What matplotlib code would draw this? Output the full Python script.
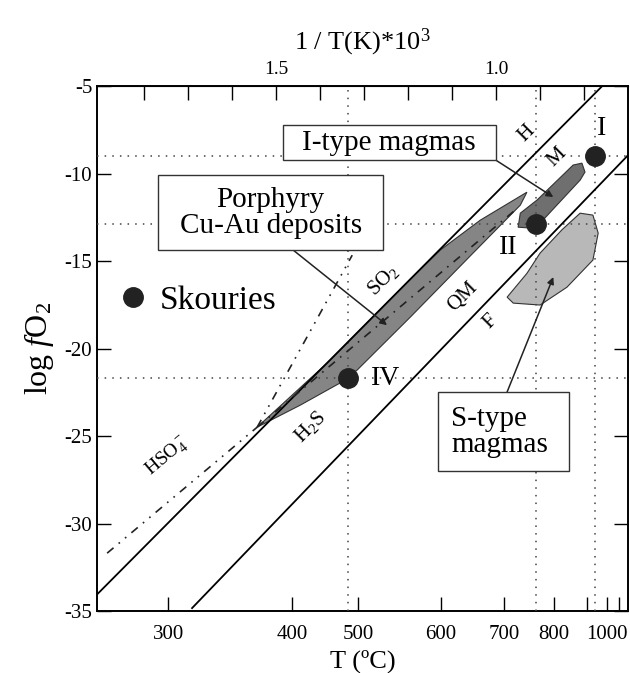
import matplotlib
matplotlib.use('Agg')
import matplotlib.pyplot as plt
from matplotlib.patches import Polygon, Rectangle
from matplotlib.lines import Line2D

plt.rcParams['font.family'] = ['Liberation Serif', 'DejaVu Serif']
plt.rcParams['mathtext.fontset'] = 'custom'
plt.rcParams['mathtext.rm'] = 'Liberation Serif'
plt.rcParams['mathtext.it'] = 'Liberation Serif:italic'
plt.rcParams['axes.unicode_minus'] = False

# x = 1000/T(K), y = log fO2
hm_x = [1.905, 0.759]
hm_y = [-34.0, -5.0]
qfm_x = [1.691, 0.698]
qfm_y = [-34.83, -8.89]
hso4_h2s_x = [1.884, 1.543]
hso4_h2s_y = [-31.69, -24.49]
hso4_so2_x = [1.543, 1.327]
hso4_so2_y = [-24.49, -14.66]
so2_h2s_x = [1.543, 0.957]
so2_h2s_y = [-24.49, -12.09]

porph_x = [1.543, 1.377, 1.195, 1.127, 1.036, 0.930, 0.945, 1.059, 1.195, 1.316, 1.355, 1.445]
porph_y = [-24.49, -20.66, -16.03, -14.37, -12.66, -11.06, -11.8, -14.71, -18.2, -21.23, -21.97, -23.23]
itype_x = [0.950, 0.945, 0.907, 0.825, 0.805, 0.798, 0.809, 0.900, 0.923]
itype_y = [-13.06, -12.26, -11.51, -9.51, -9.40, -9.91, -10.37, -12.83, -13.11]
stype_x = [0.975, 0.930, 0.900, 0.850, 0.809, 0.780, 0.768, 0.780, 0.839, 0.900, 0.961]
stype_y = [-17.06, -15.70, -14.54, -13.20, -12.26, -12.37, -13.40, -14.94, -16.49, -17.51, -17.40]

sk_x = [0.775, 0.909, 1.336]
sk_y = [-9.0, -12.9, -21.7]
sk_names = ['I', 'II', 'IV']
sk_offsets = [(5, 20), (-20, -17), (27, 0)]

# bottom T(C) scale, positions as drawn on the original (1000/T units)
t_labels = ['300', '400', '500', '600', '700', '800', '', '1000', '']
t_pos = [1.745, 1.464, 1.314, 1.125, 0.982, 0.868, 0.793, 0.748, 0.720]
inv_ticks = [0.8, 0.9, 1.0, 1.1, 1.2, 1.3, 1.4, 1.5, 1.6, 1.7, 1.8]
inv_labels = ['', '', '1.0', '', '', '', '', '1.5', '', '', '']

fig = plt.figure(figsize=(6.3, 6.73), dpi=100)
ax = fig.add_axes([0.154, 0.092, 0.843, 0.780])
ax.set_xlim(1.907, 0.70)
ax.set_ylim(-35, -5)

dot = (0, (1, 4))
for v in sk_y:
    ax.axhline(v, color='#444444', lw=1.1, ls=dot, zorder=3)
for v in sk_x:
    ax.axvline(v, color='#444444', lw=1.1, ls=dot, zorder=3)

ax.add_patch(Polygon(list(zip(porph_x, porph_y)), closed=True, fc='#858585', ec='#333333', lw=0.8, zorder=2))
ax.add_patch(Polygon(list(zip(itype_x, itype_y)), closed=True, fc='#6f6f6f', ec='#333333', lw=0.8, zorder=2))
ax.add_patch(Polygon(list(zip(stype_x, stype_y)), closed=True, fc='#b8b8b8', ec='#333333', lw=0.8, zorder=2))

ax.plot(hm_x, hm_y, color='black', lw=1.3, zorder=4)
ax.plot(qfm_x, qfm_y, color='black', lw=1.3, zorder=4)
ax.plot(hso4_h2s_x, hso4_h2s_y, color='#222222', lw=1.2, ls=(0, (5, 4, 1, 4, 1, 4)), zorder=4)
ax.plot(hso4_so2_x, hso4_so2_y, color='#222222', lw=1.2, ls=(0, (5, 4, 1, 4, 1, 4)), zorder=4)
ax.plot(so2_h2s_x, so2_h2s_y, color='#222222', lw=1.2, ls=(0, (5, 4, 1, 4)), zorder=4)

ax.plot(sk_x, sk_y, 'o', color='#222222', ms=14, zorder=6)
for x, y, name, off in zip(sk_x, sk_y, sk_names, sk_offsets):
    ax.annotate(name, (x, y), xytext=off, textcoords='offset points',
                ha='center', va='center', fontsize=20, zorder=6)

# line labels
ax.text(0.930, -7.69, 'H', rotation=45, fontsize=15, ha='center', va='center')
ax.text(0.861, -9.06, 'M', rotation=45, fontsize=15, ha='center', va='center')
ax.text(1.075, -17.06, 'QM', rotation=45, fontsize=15, ha='center', va='center')
ax.text(1.014, -18.49, 'F', rotation=45, fontsize=15, ha='center', va='center')
ax.text(1.257, -16.09, 'SO$_2$', rotation=45, fontsize=15, ha='center', va='center')
ax.text(1.423, -24.49, 'H$_2$S', rotation=45, fontsize=15, ha='center', va='center')
ax.text(1.748, -26.2, 'HSO$_4^-$', rotation=40, fontsize=14, ha='center', va='center')

# labelled boxes
boxes = [
    ((0.350, 0.859), 0.401, 0.067, 'I-type magmas', (0.55, 0.892), 'center'),
    ((0.115, 0.688), 0.424, 0.142, 'Porphyry\nCu-Au deposits', (0.327, 0.759), 'center'),
    ((0.642, 0.267), 0.247, 0.150, 'S-type\nmagmas', (0.667, 0.342), 'left'),
]
for (x0, y0), w, h, txt, (tx, ty), ha in boxes:
    ax.add_patch(Rectangle((x0, y0), w, h, transform=ax.transAxes, fc='white',
                           ec='#333333', lw=1.0, zorder=7))
    ax.text(tx, ty, txt, transform=ax.transAxes, fontsize=21, ha=ha, va='center',
            multialignment=ha, linespacing=1.0, zorder=8)

arrows = [((0.870, -11.34), (0.751, 0.859)),
          ((1.248, -18.66), (0.369, 0.688)),
          ((0.870, -15.91), (0.772, 0.417))]
for tip, start in arrows:
    ax.annotate('', xy=tip, xycoords='data', xytext=start, textcoords='axes fraction',
                arrowprops=dict(arrowstyle='-|>', color='#222222', lw=1.1,
                                mutation_scale=10, shrinkA=0, shrinkB=0), zorder=6)

handle = Line2D([], [], ls='none', marker='o', color='#222222', ms=14)
ax.legend([handle], ['Skouries'], loc='center left', bbox_to_anchor=(0.043, 0.592),
          frameon=False, fontsize=24, handlelength=0.8, handletextpad=0.4,
          borderpad=0, borderaxespad=0)

ax.set_xticks(t_pos)
ax.set_xticklabels(t_labels)
ax.set_yticks(range(-35, -4, 5))
ax.tick_params(axis='both', direction='in', length=10, width=1.0, labelsize=15,
               right=True, top=False)
ax.tick_params(axis='x', pad=10)
for s in ax.spines.values():
    s.set_linewidth(1.4)

top = ax.secondary_xaxis('top')
top.set_xticks(inv_ticks)
top.set_xticklabels(inv_labels)
top.tick_params(direction='in', length=10, width=1.0, labelsize=14, pad=6)
top.set_xlabel('1 / T(K)*10$^{3}$', fontsize=19, labelpad=8)

ax.set_xlabel('T (ºC)', fontsize=19, labelpad=4)
ax.set_ylabel('log $f$O$_2$', fontsize=23, labelpad=6)

fig.savefig('out.png', dpi=100)
